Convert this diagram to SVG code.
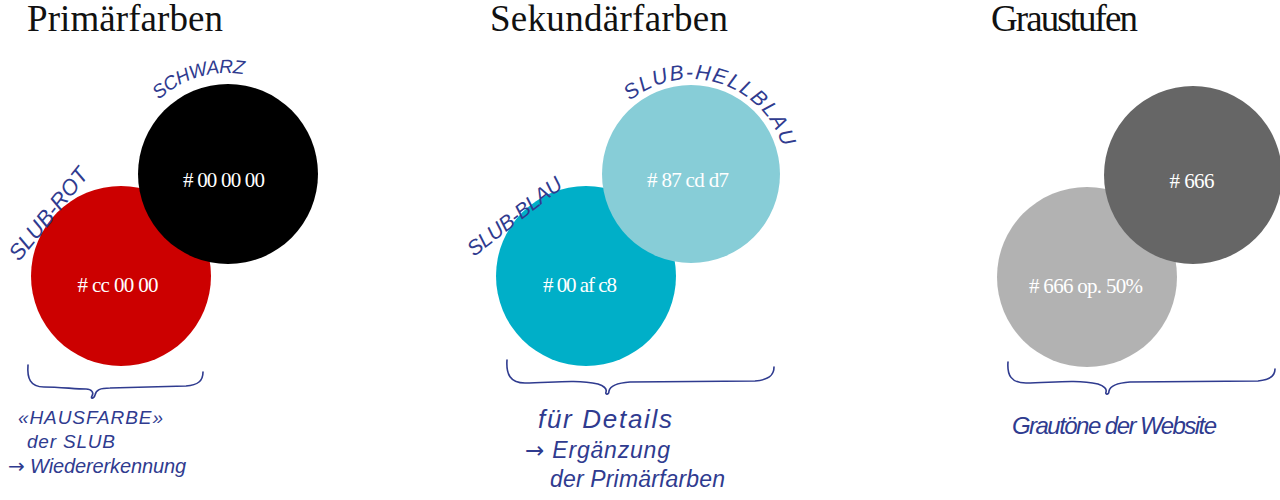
<svg xmlns="http://www.w3.org/2000/svg" width="1280" height="500" viewBox="0 0 1280 500">
<style>
.title{font-family:"Liberation Serif",serif;font-size:37px;fill:#111}
.hex{font-family:"Liberation Serif",serif;font-size:21px;fill:#fff;text-anchor:middle}
.hand{font-family:"Liberation Sans",sans-serif;font-style:italic;fill:#2f3b8f}
.arr{font-family:"DejaVu Sans",sans-serif;font-style:normal}
.brace{fill:none;stroke:#2f3b8f;stroke-width:1.6;stroke-linecap:round;stroke-linejoin:round}
</style>
<defs>
<path id="arcSchwarz" d="M158.8,99.9 A100,100 0 0 1 247.8,75.2"/>
<path id="arcHellblau" d="M630,101 A96,96 0 0 1 783,148"/>
</defs>
<rect width="1280" height="500" fill="#fff"/>

<g id="titles">
<text class="title" x="27" y="31" textLength="196">Primärfarben</text>
<text class="title" x="490" y="31" textLength="238">Sekundärfarben</text>
<text class="title" x="991" y="31" textLength="147">Graustufen</text>
</g>

<g id="node-slub-rot">
<circle cx="121" cy="276" r="90" fill="#cc0000"/>
<text class="hex" x="118" y="292" textLength="81">#  cc 00 00</text>
<text class="hand" font-size="22" transform="translate(19,262) rotate(-51)" textLength="112">SLUB-ROT</text>
</g>
<g id="node-schwarz">
<circle cx="228" cy="174" r="90" fill="#000"/>
<text class="hex" x="224" y="187" textLength="82">#  00 00 00</text>
<text class="hand" font-size="19"><textPath href="#arcSchwarz" textLength="92">SCHWARZ</textPath></text>
</g>

<g id="node-slub-blau">
<circle cx="586" cy="276" r="90" fill="#00afc8"/>
<text class="hex" x="580" y="292" textLength="74">#  00 af c8</text>
<text class="hand" font-size="21" transform="translate(474,257) rotate(-38)" textLength="114">SLUB-BLAU</text>
</g>
<g id="node-slub-hellblau">
<circle cx="691" cy="174" r="89" fill="#87cdd7"/>
<text class="hex" x="688" y="187" textLength="82">#  87 cd d7</text>
<text class="hand" font-size="21"><textPath href="#arcHellblau" textLength="188">SLUB-HELLBLAU</textPath></text>
</g>

<g id="node-grau-50">
<circle cx="1087" cy="277" r="90" fill="#666" fill-opacity="0.5"/>
<text class="hex" x="1086" y="293" textLength="114">#  666 op. 50%</text>
</g>
<g id="node-grau">
<circle cx="1193" cy="175" r="89" fill="#666"/>
<text class="hex" x="1192" y="188" textLength="45">#  666</text>
</g>

<g id="connectors">
<path class="brace" d="M28,365 C27,378 30,387 44,387 C60,387 75,389 86,389 C92,389 94,393 92,396 C90,399 94,399 95,395 C96,390 100,388 110,388 L186,386 C198,385 203,381 203,372"/>
<path class="brace" d="M507,360 C506,374 510,383 525,383 C550,383 575,379 598,384 C604,386 607,389 606,392 C605,395 609,395 609,391 C610,386 616,383 630,382 L755,381 C768,380 774,376 774,367"/>
<path class="brace" d="M1008,362 C1007,375 1011,383 1026,383 C1050,383 1075,379 1098,384 C1104,386 1107,389 1106,392 C1105,395 1109,395 1109,391 C1110,386 1116,383 1130,382 L1258,381 C1270,380 1275,376 1275,369"/>
</g>

<g id="note-primaer">
<text class="hand" font-size="19" x="18" y="424" textLength="145">«HAUSFARBE»</text>
<text class="hand" font-size="19" x="27" y="448" textLength="88">der SLUB</text>
<text class="hand" font-size="20" x="8" y="473" textLength="178"><tspan class="arr">→</tspan> Wiedererkennung</text>
</g>
<g id="note-sekundaer">
<text class="hand" font-size="26" x="538" y="428" textLength="134">für Details</text>
<text class="hand" font-size="23" x="525" y="458" textLength="145"><tspan class="arr">→</tspan> Ergänzung</text>
<text class="hand" font-size="23" x="550" y="487" textLength="175">der Primärfarben</text>
</g>
<g id="note-grau">
<text class="hand" font-size="24" x="1012" y="434" textLength="205">Grautöne der Website</text>
</g>
</svg>
